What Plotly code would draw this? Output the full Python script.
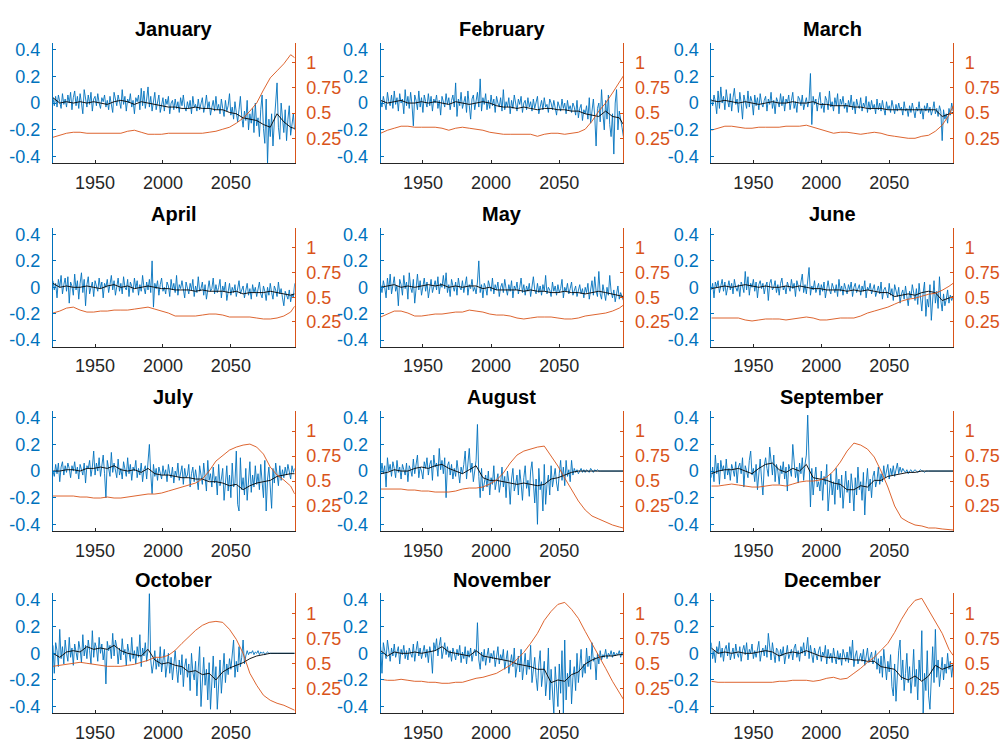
import plotly.graph_objects as go

# ---------------- data (values stored in hundredths) ----------------
YEARS = list(range(1919, 2098))            # yearly anomaly series
SMOOTH_YEARS = [1919, 1924, 1929, 1934, 1939, 1944, 1949, 1954, 1959, 1964,
                1969, 1974, 1979, 1984, 1989, 1994, 1999, 2004, 2009, 2014,
                2019, 2024, 2029, 2034, 2039, 2044, 2049, 2054, 2059, 2064,
                2069, 2074, 2079, 2084, 2089, 2094, 2097]
MONTHS = ["January", "February", "March", "April", "May", "June",
          "July", "August", "September", "October", "November", "December"]
LEFT_TICKS = [-0.4, -0.2, 0, 0.2, 0.4]
LEFT_TICK_TEXT = ["-0.4", "-0.2", "0", "0.2", "0.4"]
RIGHT_TICKS = [0.25, 0.5, 0.75, 1]
RIGHT_TICK_TEXT = ["0.25", "0.5", "0.75", "1"]
X_TICKS = [1950, 2000, 2050]

JAN_RAW = [4, -2, 5, -3, 6, 1, -4, 7, -1, 3,
           -3, 6, 0, 8, -5, 4, 9, -2, 5, -4,
           7, 0, -8, 10, 2, -3, 6, -1, 8, -6,
           3, 5, -2, 7, 0, -4, 4, 1, 6, -3,
           2, -5, 5, 0, -7, 8, 3, -2, 6, 1,
           -4, 10, -1, 5, -6, 3, 0, 7, -3, 2,
           -8, 4, 1, 6, -5, 11, -2, 9, -4, 3,
           12, -3, 5, -6, 2, 8, -5, 1, 6, -7,
           -2, 4, -6, 3, -1, 5, -8, 0, 2, -5,
           3, -4, 1, -7, 4, -2, 6, -3, -6, 1,
           -4, 2, -8, 5, -3, -1, -6, 3, -5, 0,
           4, -7, -2, 6, -4, 1, -9, -3, 2, -6,
           5, -5, -1, -8, 3, -4, -10, 2, -6, -2,
           7, -9, -3, -12, 1, -7, -14, -5, 5, -10,
           -18, -6, -13, 2, -20, -8, -15, -4, -22, 0,
           -17, -11, -25, -5, 6, -19, -30, 3, -45, -12,
           -25, -8, -32, -14, 4, 15, -18, -27, 0, -10,
           -22, -5, -28, -12, -2, -24, -15, -8, -20]
FEB_RAW = [2, -3, 5, 0, -5, 8, 1, -2, 6, -4,
           9, -1, 4, -6, 7, 0, 3, -8, 10, -2,
           5, -4, 8, -1, -17, 6, 2, -5, 9, -3,
           4, -7, 6, 1, -3, 7, -2, 5, -6, 3,
           0, 6, -4, 2, -9, 5, 1, -3, 7, -1,
           4, -5, 2, 6, -3, 15, -10, 3, -2, 8,
           -4, 1, 5, -7, 9, -2, -12, 3, 6, -5,
           2, 8, -3, 18, -6, 4, -1, 7, -5, 2,
           -4, 6, -2, 3, -7, 5, 0, -3, 4, -6,
           10, -5, 1, -3, 4, -8, 2, -4, 6, -2,
           -6, 3, -1, 5, -7, 0, 2, -5, 4, -3,
           1, -6, 3, -4, 0, 5, -8, -2, 2, -5,
           4, -3, -1, -7, 3, 0, -5, 2, -4, -9,
           1, -3, -6, 3, -4, 0, -8, 2, -5, -2,
           -7, 0, -3, -9, 2, -11, -4, -1, -13, -5,
           -8, -2, -12, 4, -15, -6, 3, -10, -32, -4,
           0, -14, 10, -8, -20, 2, -12, 6, -16, -25,
           -8, -38, 0, 10, -20, -6, -14, -18, -25]
MAR_RAW = [3, -2, 6, 1, -8, 9, -4, 12, 0, 5,
           -5, 10, 2, -3, 7, -6, 4, 11, -1, 3,
           -7, 8, 0, -12, 6, 2, -4, 9, -3, 5,
           1, -9, 6, -2, 4, -5, 7, 0, -3, 2,
           5, -6, 3, -1, 8, -4, 2, -8, 4, 1,
           -3, 7, -2, 5, -6, 3, 0, 6, -5, 2,
           8, -4, 1, -7, 5, 3, -2, 6, -5, 0,
           4, -3, 2, 22, -16, 5, -1, 3, -6, 2,
           8, -4, 0, -7, 5, 2, -5, 9, -3, 1,
           -6, 4, -2, 7, -8, 3, -1, 5, -4, 0,
           -7, 2, -3, 6, -5, 1, -8, 3, -2, -4,
           4, -6, 0, -3, 5, -7, 1, -5, 2, -4,
           -1, -8, 3, -5, 0, -6, 2, -4, -9, 1,
           -5, -2, -7, 2, -4, -8, -1, -6, 0, -5,
           -3, -9, 1, -6, -4, -10, -2, -7, 0, -5,
           -11, -3, -6, 1, -8, -4, -12, -2, -6, 0,
           -7, -3, -9, -5, 1, -8, -4, -10, -2, -6,
           -28, -5, -12, -8, -15, -4, -9, 0, -6]
APR_RAW = [5, -2, 3, -8, 6, 0, 9, -5, 2, 7,
           -3, 8, -12, 4, 1, -6, 10, -2, 5, -9,
           3, 11, -4, 6, -14, 2, 8, -5, 0, 4,
           -7, 5, 1, -3, 7, -1, 4, -8, 3, 0,
           6, -4, 2, 9, -2, 5, -6, 1, 7, -3,
           3, -5, 8, 0, -2, 6, -7, 4, 1, -4,
           7, -1, 5, -6, 2, -3, 9, 0, -5, 4,
           -2, 6, -4, 20, -15, 3, -1, 5, -6, 2,
           7, -3, 0, -5, 4, 1, -7, 6, -2, 3,
           -4, 9, -6, 2, -1, 5, -3, -8, 4, 0,
           -5, 3, -2, 6, -7, 1, -4, 8, -3, -1,
           4, -6, 2, -9, 0, 5, -3, -1, 7, -5,
           2, -4, 0, 6, -8, 1, -3, 4, -10, -2,
           3, -6, 0, -4, 2, -7, -1, 5, -5, -2,
           1, -8, -3, 3, -6, -1, -9, 2, -4, 0,
           -7, -2, 4, -5, -8, 1, -3, -10, 0, -6,
           3, -4, -9, 1, -2, -7, 4, -5, -1, -8,
           -14, -3, -6, -9, -2, -11, -5, -8, 3]
MAY_RAW = [2, -4, 5, 0, -8, 7, -2, 10, -5, 3,
           8, -3, 1, -14, 6, 2, -6, 9, -1, 4,
           -9, 11, 0, -4, 6, -12, 3, 10, -2, 5,
           -6, 2, 7, -3, 4, -8, 1, 6, -4, 0,
           5, -2, 8, -5, 3, 0, 9, -1, 11, -4,
           2, -7, 6, 1, -3, 4, -6, 7, 0, -2,
           5, -4, 3, 8, -6, 2, -1, 6, -3, 0,
           -5, 4, 20, -4, 2, -8, 3, 0, -6, 5,
           1, -3, 7, -5, 2, -2, 4, -7, 0, 3,
           -4, 6, -1, -6, 2, -3, 5, -8, 1, -2,
           4, -5, 0, 7, -4, 2, -6, 1, -3, 3,
           -7, 0, 8, -2, -5, 3, -4, 1, -6, 2,
           -3, 9, -5, 0, -2, -7, 4, -3, 1, -6,
           2, -4, -1, 6, -8, 0, -3, 3, -5, -1,
           4, -6, -2, 1, -7, -3, 2, -5, -1, -8,
           0, -4, 3, -9, -2, 5, -6, 8, -3, -7,
           12, -5, -9, 2, -4, -10, 0, -6, 9, -3,
           -8, -2, -11, -5, 1, -9, -4, -7, -10]
JUN_RAW = [-2, 3, -8, 4, 0, 5, -4, 2, 6, -3,
           4, -6, 1, 5, -2, 3, -5, 6, 0, -3,
           2, -7, 4, 1, -4, 12, -2, 8, -6, 3,
           0, 6, -3, 4, -8, 2, 5, -1, 3, -5,
           1, 4, -10, 3, 6, -2, 0, 5, -4, 2,
           -6, 3, 7, -2, 1, -5, 4, 0, -3, 6,
           -1, 3, -7, 5, 0, -3, 4, 10, -4, 2,
           -5, 3, 15, -6, 1, -2, 5, -4, 0, 3,
           -6, 2, -3, 4, -8, 1, 5, -2, -5, 3,
           0, -4, 2, -7, 6, -3, 1, -6, 3, -1,
           -5, 2, -2, 4, -7, 0, 3, -4, -1, 2,
           -6, 1, -3, 5, -8, 0, -2, 3, -5, -1,
           2, -7, -3, 1, -5, 4, -9, -2, 0, -4,
           -8, 3, -6, -1, -10, 2, -4, -7, 0, -12,
           -5, -2, -9, 1, -7, -14, -3, -8, 2, -6,
           -10, -1, -13, 3, -6, -18, -4, 4, -22, -9,
           -15, 2, -25, -7, 5, -12, -3, -16, 8, -10,
           -18, -5, -14, -9, -2, -12, -6, -10, -7]
JUL_RAW = [0, -4, 5, -2, 6, -8, 3, 7, -3, 4,
           -1, 6, 2, -5, 4, 0, 7, -2, 3, -6,
           5, 1, -3, 6, -9, 4, 2, 8, -4, 3,
           15, -3, 6, 0, 10, -4, 5, 12, -2, -20,
           8, 3, -4, 14, -1, 6, 0, -5, 9, -3,
           2, -6, 7, 1, -4, 10, -2, 5, -7, 3,
           0, 8, -5, 2, -3, 6, -8, 1, 4, -6,
           9, 20, -2, -17, 5, -4, 2, -7, 3, -1,
           -6, 4, -3, 1, -8, 5, -2, -5, 3, -9,
           0, -4, 6, -7, -1, 4, -10, 2, -5, -3,
           5, -12, -2, 3, -8, 1, -6, -14, 4, -3,
           -10, 6, -5, -15, 8, -7, -2, -12, 3, -9,
           -4, -18, 5, -11, -6, 2, -22, -8, 4, -15,
           -3, -20, 6, -12, -9, 15, -25, -30, 10, -14,
           -5, -18, 2, -22, -8, 7, -16, -3, -12, 4,
           -10, -2, -14, 5, -8, -20, 8, -30, -6, 3,
           -12, -28, 2, -9, 6, -4, -11, 4, -7, 1,
           -5, 3, -3, 5, -2, -6, 4, -1, 2]
AUG_RAW = [-3, 6, -2, 4, -12, 10, 0, 5, -4, 7,
           2, -5, 8, -1, 3, -6, 5, 0, -3, 6,
           -8, 4, 1, -4, 9, -2, 6, 12, -5, 3,
           0, -6, 7, 2, 10, -3, 5, 8, -7, 12,
           3, 6, -4, 17, 1, 8, -2, 10, -20, 4,
           7, -3, 5, -6, 2, -4, 8, 0, -9, 3,
           -2, 5, 15, -6, 4, 17, -1, 6, -8, 2,
           8, 35, -4, -20, 2, -15, -8, -3, -12, 0,
           -18, -5, -10, 4, -14, -7, -2, -16, -9, 3,
           -12, -4, -20, 0, -8, -25, -6, 2, -15, -10,
           -3, -18, 1, -9, -22, -5, 4, -13, -7, -19,
           0, 7, -11, -24, -6, -40, 2, -14, -8, -30,
           5, -25, -10, -3, -18, 4, -12, -6, 2, -9,
           -15, -2, 8, -7, 3, -11, 8, -4, 1, -8,
           8, -3, 2, -1, 1, -2, 0, 2, -1, 1,
           -1, 1, 0, -1, 2, 0, -1, 1, 0, 1,
           0, 0, 0, 0, 0, 0, 0, 0, 0, 0,
           0, 0, 0, 0, 0, 0, 0, 0, 0]
SEP_RAW = [-5, 3, -8, 12, -2, 6, -10, 8, 0, 4,
           -6, 9, -3, 2, -7, 5, 1, -4, 7, -9,
           3, 6, -2, 10, -12, 4, 0, -5, 8, 15,
           -3, 2, -8, 5, -14, 1, 9, -6, -18, 4,
           10, 2, -4, 18, 6, -3, 12, -8, 5, 0,
           -10, 4, -2, 7, -6, 3, -15, 5, 1, -4,
           20, 8, -5, 3, -9, 6, -2, 10, -7, 5,
           12, 42, -5, -27, 2, -18, -6, 3, -12, -8,
           -15, 0, -22, -4, -10, 5, -30, -12, -2, -18,
           -8, -25, 2, -14, -6, -20, -3, -28, -10, 0,
           -16, -7, -24, -2, -12, -30, -5, -18, 3, -14,
           -8, -22, -1, -33, -10, 2, -15, -6, -20, -4,
           0, -12, -7, 3, -10, -2, -8, 4, -5, -1,
           5, -6, 2, -3, 4, -4, 1, 6, -2, 3,
           -1, 2, 0, -1, 1, -2, 0, 1, -1, 0,
           1, 0, -1, 0, 1, 0, 0, -1, 0, 0,
           0, 0, 0, 0, 0, 0, 0, 0, 0, 0,
           0, 0, 0, 0, 0, 0, 0, 0, 0]
OCT_RAW = [6, -15, 8, 2, -10, 18, -4, 5, -8, 10,
           0, -6, 12, -3, 4, -9, 7, 1, -5, 9,
           3, -7, 14, -2, 6, -4, 10, 2, -8, 17,
           -3, 8, 4, -6, 12, 0, 7, -5, 3, -23,
           9, 2, 6, -4, 15, -2, 10, 5, -8, 4,
           -5, 11, -1, 3, -9, 7, 0, -6, 12, -4,
           2, -8, 5, -3, 14, -10, 4, -2, 8, -6,
           3, 45, -5, -15, -8, 2, -12, -4, -10, 5,
           -14, -6, 3, -18, -9, 0, -15, -3, -20, -7,
           2, -12, -22, -5, -16, -1, -25, -10, -4, -18,
           -8, -28, 0, -14, -20, -6, -32, -11, 5, -40,
           -16, -3, -24, -12, -35, -7, -42, -18, -2, -26,
           -10, -42, -20, -5, -30, -14, 0, -22, -8, -16,
           -4, -12, 2, 10, -18, -6, -14, 5, -10, -3,
           10, -8, -2, 2, -1, 1, 0, 2, -1, 1,
           0, 2, -1, 1, 0, 1, -1, 0, 1, 0,
           0, 0, 0, 0, 0, 0, 0, 0, 0, 0,
           0, 0, 0, 0, 0, 0, 0, 0, 0]
NOV_RAW = [5, -15, 8, 0, -4, 10, 2, -6, 4, -2,
           7, -3, 1, 5, -8, 3, -1, 6, -4, 2,
           -5, 4, 0, -3, 7, -6, 2, 9, -2, 4,
           -4, 1, 6, -3, 3, -7, 5, 0, -15, 8,
           2, 11, -2, 6, 12, -4, 3, 8, -1, 5,
           -3, 2, -6, 4, 0, -5, 3, -2, 6, -7,
           1, -4, 5, -8, 2, -3, 4, -6, 0, 3,
           -2, 23, -5, -12, 1, -6, 3, -9, -2, 4,
           -7, 0, -4, 2, -10, -3, 5, -8, -1, -5,
           3, -12, -4, 2, -15, -6, -1, -10, 4, -18,
           -8, -2, -14, 3, -20, -9, 0, -16, -5, -12,
           6, -22, -10, -3, -18, -28, -8, 2, -25, -14,
           -6, -32, -20, 4, -35, -12, -28, -45, -10, -24,
           -40, -8, -30, 2, -45, 10, -35, -15, -25, -5,
           -38, -18, -10, -28, 0, -22, -12, 3, -18, -8,
           -15, 4, -10, -2, -12, 8, -6, -3, -20, 0,
           -8, 2, -5, -1, -3, 3, -4, 0, -2, 2,
           -3, 1, -2, 0, -1, 2, -3, 1, -1]
DEC_RAW = [8, -4, 2, -7, 5, 0, 9, -3, 4, -6,
           3, 6, -2, 8, -5, 1, 4, -4, 7, 0,
           -3, 5, -6, 2, 6, -1, 8, -5, 3, 0,
           7, -4, 2, -3, 5, 9, -6, 1, 4, -2,
           6, -3, 15, 2, -5, 8, 0, -7, 4, 2,
           -6, 3, -2, 5, -8, 1, 6, -4, 0, 3,
           -5, 4, 7, -3, 2, -6, 5, 0, 8, -2,
           3, 12, -4, 6, -1, -7, 4, 0, -5, 2,
           5, -6, 1, -2, 6, -8, 3, -4, 0, -7,
           4, -3, -8, 2, -5, 0, -9, 3, -2, -6,
           1, -7, 5, -4, 10, -10, -2, 2, -8, -4,
           0, -6, 3, -9, -1, 4, -7, -3, 1, -8,
           -5, 2, -12, -4, -15, -2, -18, 3, -10, -20,
           -6, -14, -1, -25, -32, -8, -36, -12, 2, 10,
           -20, -5, -28, -15, 0, -22, -10, -30, -18, 3,
           -25, -12, -35, -5, -20, 17, -45, -15, -28, 2,
           -32, -42, -10, 5, -22, 18, -18, -5, -25, -12,
           -3, -20, -8, -15, 0, -12, -6, -18, -8]

JAN_MEAN = [4, 0, 1, 0, 1, 0, 1, 0, -1, 1, 2, 1, -1, 1, 0, -1, -2, -3, -3, -4,
            -4, -3, -4, -4, -5, -5, -7, -8, -11, -12, -13, -16, -18, -8, -14, -18, -19]
FEB_MEAN = [2, 0, 1, 2, 0, 0, 1, 0, 1, 0, -1, 1, 0, -1, 0, 1, 0, -2, -3, -3,
            -4, -3, -4, -5, -4, -4, -5, -5, -6, -6, -8, -9, -10, -6, -10, -11, -16]
MAR_MEAN = [2, 1, 2, 1, 0, 1, 0, -1, 0, 1, 0, 0, 1, 0, 0, 1, -1, -1, -2, -2,
            -2, -3, -3, -4, -4, -4, -5, -5, -5, -5, -5, -5, -5, -5, -10, -8, -7]
APR_MEAN = [3, 0, 1, 0, 0, 1, 0, -1, 1, 2, 0, 1, -1, 0, 1, 0, -1, -1, -2, -2,
            -2, -3, -2, -3, -3, -3, -4, -3, -5, -4, -4, -4, -3, -4, -5, -6, -5]
MAY_MEAN = [0, 1, 2, 0, 1, 0, 1, 2, 1, 2, 0, 1, 0, 1, 1, -1, 0, -2, -2, -2,
            -2, -3, -2, -3, -3, -4, -4, -3, -4, -4, -5, -4, -3, -4, -5, -6, -7]
JUN_MEAN = [-1, 0, 1, 0, 1, 2, 1, 0, 1, 0, 0, 1, 0, 1, 0, -1, -1, -2, -2, -2,
            -3, -2, -3, -2, -3, -4, -4, -7, -6, -5, -6, -4, -3, -4, -10, -8, -7]
JUL_MEAN = [0, 0, 1, 1, 0, 2, 2, 3, 2, 4, 1, 0, 1, -1, 2, -2, -3, -3, -4, -5,
            -5, -6, -6, -8, -8, -9, -11, -10, -14, -11, -9, -8, -7, -4, -3, -2, -2]
AUG_MEAN = [-2, -1, 1, 0, 0, 2, 3, 2, 4, 5, 2, 0, -2, 1, 4, -5, -7, -7, -8, -9,
            -10, -9, -10, -11, -10, -6, -5, -3, -1, 0, 0, 0, 0, 0, 0, 0, 0]
SEP_MEAN = [-2, 0, 1, 1, 2, 0, -2, 2, 5, 6, 1, -1, 2, 0, 5, -5, -6, -7, -9, -10,
            -14, -14, -11, -12, -7, -7, -4, -3, -2, -1, -1, 0, 0, 0, 0, 0, 0]
OCT_MEAN = [0, -3, 1, 2, 1, 5, 3, 4, 3, 6, 2, 0, -1, -2, 3, -5, -8, -7, -9, -10,
            -14, -13, -16, -15, -20, -14, -11, -9, -7, -4, -2, -1, 0, 0, 0, 0, 0]
NOV_MEAN = [2, -2, 1, 0, 0, 1, 0, 1, 2, 5, 1, 0, -1, -2, 2, -2, -3, -4, -5, -6,
            -8, -9, -10, -12, -12, -22, -20, -21, -16, -14, -8, -5, -3, -2, -2, -1, -1]
DEC_MEAN = [4, 0, 1, 0, 1, 0, 0, 1, 2, 1, -2, 0, 1, 0, 2, 0, -2, -3, -3, -4,
            -4, -5, -5, -6, -6, -10, -11, -12, -18, -20, -17, -21, -17, -9, -12, -10, -9]

JAN_RIGHT = [26, 28, 30, 31, 31, 30, 30, 30, 30, 30, 30, 32, 33, 31, 29, 29, 29, 30, 30, 30,
             30, 30, 30, 31, 32, 34, 36, 40, 45, 52, 60, 73, 85, 92, 99, 108, 105]
FEB_RIGHT = [30, 33, 35, 37, 37, 36, 36, 36, 36, 35, 33, 35, 36, 35, 34, 33, 31, 30, 29, 29,
             29, 29, 29, 27, 29, 30, 30, 29, 30, 31, 34, 42, 52, 60, 70, 80, 87]
MAR_RIGHT = [33, 35, 37, 37, 36, 35, 35, 36, 36, 36, 36, 37, 37, 37, 38, 36, 34, 32, 30, 31,
             31, 30, 29, 30, 31, 30, 28, 27, 26, 25, 25, 27, 28, 32, 38, 48, 57]
APR_RIGHT = [34, 36, 39, 40, 37, 35, 35, 36, 36, 37, 37, 37, 38, 39, 40, 38, 36, 34, 31, 31,
             31, 31, 32, 33, 33, 32, 30, 30, 30, 30, 29, 28, 28, 29, 31, 35, 41]
MAY_RIGHT = [30, 33, 36, 36, 34, 31, 31, 32, 33, 33, 34, 35, 35, 37, 36, 35, 33, 32, 32, 31,
             29, 28, 29, 30, 30, 30, 29, 28, 28, 29, 31, 32, 33, 34, 36, 39, 42]
JUN_RIGHT = [29, 29, 29, 29, 29, 27, 26, 27, 28, 28, 28, 27, 28, 29, 30, 29, 27, 27, 28, 29,
             29, 29, 31, 34, 36, 38, 40, 43, 46, 48, 49, 51, 53, 54, 57, 61, 64]
JUL_RIGHT = [35, 35, 35, 35, 34, 34, 33, 33, 34, 33, 33, 34, 35, 36, 37, 37, 38, 40, 42, 44,
             46, 48, 52, 60, 70, 76, 81, 84, 86, 87, 84, 77, 64, 56, 51, 45, 37]
AUG_RIGHT = [42, 42, 42, 42, 41, 41, 40, 40, 39, 39, 39, 40, 42, 43, 43, 44, 47, 51, 58, 68,
             76, 80, 82, 84, 85, 75, 65, 53, 42, 30, 21, 15, 12, 9, 6, 4, 3]
SEP_RIGHT = [45, 45, 46, 47, 46, 45, 44, 44, 45, 46, 46, 45, 47, 49, 50, 50, 51, 54, 60, 69,
             80, 88, 86, 82, 74, 60, 44, 25, 13, 9, 6, 5, 3, 3, 2, 1, 1]
OCT_RIGHT = [47, 48, 49, 50, 51, 50, 49, 48, 47, 47, 47, 48, 49, 51, 53, 56, 56, 58, 63, 70,
             77, 83, 88, 91, 92, 91, 84, 74, 60, 40, 28, 18, 13, 10, 8, 5, 3]
NOV_RIGHT = [34, 33, 33, 34, 33, 32, 32, 31, 31, 30, 30, 31, 31, 33, 35, 36, 38, 40, 44, 48,
             54, 61, 70, 80, 93, 102, 109, 111, 104, 95, 82, 70, 57, 45, 32, 20, 14]
DEC_RIGHT = [32, 31, 31, 31, 31, 31, 31, 31, 31, 31, 32, 32, 33, 33, 33, 32, 33, 35, 36, 34,
             35, 40, 45, 51, 56, 63, 70, 81, 94, 105, 113, 115, 103, 92, 80, 64, 58]

RAW = [JAN_RAW, FEB_RAW, MAR_RAW, APR_RAW, MAY_RAW, JUN_RAW,
       JUL_RAW, AUG_RAW, SEP_RAW, OCT_RAW, NOV_RAW, DEC_RAW]
MEAN = [JAN_MEAN, FEB_MEAN, MAR_MEAN, APR_MEAN, MAY_MEAN, JUN_MEAN,
        JUL_MEAN, AUG_MEAN, SEP_MEAN, OCT_MEAN, NOV_MEAN, DEC_MEAN]
RIGHT = [JAN_RIGHT, FEB_RIGHT, MAR_RIGHT, APR_RIGHT, MAY_RIGHT, JUN_RIGHT,
         JUL_RIGHT, AUG_RIGHT, SEP_RIGHT, OCT_RIGHT, NOV_RIGHT, DEC_RIGHT]
UNIT = 100.0

for name, arr in zip(MONTHS, RAW):
    if len(arr) != len(YEARS):
        raise ValueError(f"{name} raw length {len(arr)}")
for name, arr in zip(MONTHS, MEAN):
    if len(arr) != len(SMOOTH_YEARS):
        raise ValueError(f"{name} mean length {len(arr)}")
for name, arr in zip(MONTHS, RIGHT):
    if len(arr) != len(SMOOTH_YEARS):
        raise ValueError(f"{name} right length {len(arr)}")

# ---------------- styling ----------------
W, H = 1000, 744
BLUE = "#0072BD"
ORANGE = "#D95319"
DARK = "#262626"
FONT = "Liberation Sans, Arial, Helvetica, sans-serif"
TICK_SIZE = 18
COLS = [(53, 295), (381, 624), (712, 954)]
ROWS = [(40, 162), (227, 347), (412, 533), (596, 717)]

fig = go.Figure()
layout = dict(
    width=W, height=H,
    margin=dict(l=0, r=0, t=0, b=0),
    paper_bgcolor="white", plot_bgcolor="white",
    showlegend=False,
    font=dict(family=FONT, size=TICK_SIZE, color=DARK),
    annotations=[],
)


def yref(n):
    return "y" if n == 1 else f"y{n}"


for i, month in enumerate(MONTHS):
    r, c = divmod(i, 3)
    x0, x1 = COLS[c]
    top, bot = ROWS[r]
    xd = [x0 / W, x1 / W]
    yd = [1 - bot / H, 1 - top / H]
    xn = i + 1
    yl = 2 * i + 1
    yr = 2 * i + 2
    xk = "xaxis" if xn == 1 else f"xaxis{xn}"
    xr = "x" if xn == 1 else f"x{xn}"

    fig.add_trace(go.Scatter(x=YEARS, y=[v / UNIT for v in RAW[i]], mode="lines",
                             line=dict(color=BLUE, width=0.9), xaxis=xr, yaxis=yref(yl),
                             hoverinfo="skip"))
    fig.add_trace(go.Scatter(x=SMOOTH_YEARS, y=[v / UNIT for v in MEAN[i]], mode="lines",
                             line=dict(color="black", width=0.9), xaxis=xr, yaxis=yref(yl),
                             hoverinfo="skip"))
    fig.add_trace(go.Scatter(x=SMOOTH_YEARS, y=[v / UNIT for v in RIGHT[i]], mode="lines",
                             line=dict(color=ORANGE, width=0.9), xaxis=xr, yaxis=yref(yr),
                             hoverinfo="skip"))

    layout[xk] = dict(domain=xd, anchor=yref(yl), range=[1919, 2097],
                      tickvals=X_TICKS, ticktext=[str(t) for t in X_TICKS],
                      showline=True, linecolor=DARK, linewidth=1,
                      ticks="inside", ticklen=3, tickcolor=DARK,
                      showgrid=False, zeroline=False,
                      tickfont=dict(size=TICK_SIZE, color=DARK, family=FONT),
                      ticklabelstandoff=3)
    layout["yaxis" if yl == 1 else f"yaxis{yl}"] = dict(
        domain=yd, anchor=xr, range=[-0.45, 0.45],
        tickvals=LEFT_TICKS, ticktext=LEFT_TICK_TEXT,
        showline=True, linecolor=BLUE, linewidth=1,
        ticks="inside", ticklen=3, tickcolor=BLUE,
        showgrid=False, zeroline=False,
        tickfont=dict(size=TICK_SIZE, color=BLUE, family=FONT),
        ticklabelstandoff=8)
    layout[f"yaxis{yr}"] = dict(
        domain=yd, anchor=xr, overlaying=yref(yl), side="right",
        range=[0, 1.2],
        tickvals=RIGHT_TICKS, ticktext=RIGHT_TICK_TEXT,
        showline=True, linecolor=ORANGE, linewidth=1,
        ticks="inside", ticklen=3, tickcolor=ORANGE,
        showgrid=False, zeroline=False,
        tickfont=dict(size=TICK_SIZE, color=ORANGE, family=FONT),
        ticklabelstandoff=7)
    layout["annotations"].append(dict(
        text=f"<b>{month}</b>", xref="paper", yref="paper",
        x=(x0 + x1) / 2 / W, y=1 - (top - 14) / H,
        xanchor="center", yanchor="middle", showarrow=False,
        font=dict(size=20, color="black", family=FONT)))

fig.update_layout(**layout)
fig.write_html(
    "out.html",
    config={"displayModeBar": False},
    post_script=("document.documentElement.style.margin='0';"
                 "document.body.style.margin='0';"
                 "document.body.style.padding='0';"
                 "document.body.style.overflow='hidden';"),
)
